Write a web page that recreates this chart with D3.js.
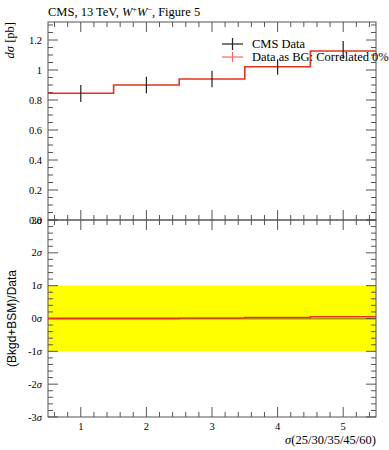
<!DOCTYPE html>
<html><head><meta charset="utf-8">
<script src="https://cdn.jsdelivr.net/npm/d3@7"></script>
<style>body{margin:0;background:#fff}svg{display:block}</style>
</head><body>
<svg id="c" width="389" height="450"></svg>
<script>
const binEdges = [0.5, 1.5, 2.5, 3.5, 4.5, 5.5];
const dataX = [1, 2, 3, 4, 5];
const dataY = [0.843, 0.900, 0.940, 1.020, 1.133];
const dataErr = [0.057, 0.055, 0.055, 0.052, 0.060];
const predY = [0.845, 0.900, 0.940, 1.022, 1.127];
const ratioVals = [0.0, 0.0, 0.01, 0.03, 0.06];
const upperTicks = [0, 0.2, 0.4, 0.6, 0.8, 1, 1.2];
const upperTickLabels = ["0.0", "0.2", "0.4", "0.6", "0.8", "1", "1.2"];
const lowerTicks = [-3, -2, -1, 0, 1, 2, 3];
const lowerTickLabels = ["-3σ", "-2σ", "-1σ", "0σ", "1σ", "2σ", "3σ"];
const xTicks = [1, 2, 3, 4, 5];

const svg = d3.select("#c");
const L = 48, R = 376, T = 22, M = 220, B = 417;
const x = d3.scaleLinear().domain([0.5, 5.5]).range([L, R]);
const yU = d3.scaleLinear().domain([0, 1.32]).range([M, T]);
const yL = d3.scaleLinear().domain([-3, 3]).range([B, M]);
const serif = "'Liberation Serif','DejaVu Serif',serif";
const axCol = "#555";

// yellow band
svg.append("rect").attr("x", L).attr("width", R - L)
  .attr("y", yL(1)).attr("height", yL(-1) - yL(1)).attr("fill", "#ffff00");

// frames
[[T, M], [M, B]].forEach(([t, b]) => {
  svg.append("rect").attr("x", L).attr("y", t).attr("width", R - L).attr("height", b - t)
    .attr("fill", "none").attr("stroke", axCol).attr("stroke-width", 1);
});

function xTickMarks(yPos, dir) {
  const g = svg.append("g").attr("stroke", axCol).attr("stroke-width", 1);
  const minors = d3.range(0.6, 5.5, 0.2);
  minors.forEach(v => {
    const isMajor = Math.abs(v - Math.round(v)) < 1e-6;
    const len = isMajor ? 10 : 5;
    g.append("line").attr("x1", x(v)).attr("x2", x(v)).attr("y1", yPos).attr("y2", yPos + dir * len);
  });
}
xTickMarks(T, 1); xTickMarks(M, -1); xTickMarks(M, 1); xTickMarks(B, -1);

function yTickMarks(scale, lo, hi, step, majorStep) {
  const g = svg.append("g").attr("stroke", axCol).attr("stroke-width", 1);
  const n = Math.round((hi - lo) / step);
  for (let i = 0; i <= n; i++) {
    const v = lo + i * step;
    const isMajor = Math.abs(v / majorStep - Math.round(v / majorStep)) < 1e-6;
    const len = isMajor ? 10 : 5;
    g.append("line").attr("x1", L).attr("x2", L + len).attr("y1", scale(v)).attr("y2", scale(v));
    g.append("line").attr("x1", R).attr("x2", R - len).attr("y1", scale(v)).attr("y2", scale(v));
  }
}
yTickMarks(yU, 0, 1.3, 0.05, 0.2);
yTickMarks(yL, -3, 3, 0.2, 1);

// y tick labels
upperTicks.forEach((v, i) => {
  svg.append("text").attr("x", 42).attr("y", yU(v) + 3.5).attr("text-anchor", "end")
    .attr("font-family", serif).attr("font-size", 10.5).text(upperTickLabels[i]);
});
lowerTicks.forEach((v, i) => {
  const t = svg.append("text").attr("x", 42).attr("y", yL(v) + 3.5).attr("text-anchor", "end")
    .attr("font-family", serif).attr("font-size", 10.5);
  const lab = lowerTickLabels[i];
  t.append("tspan").text(lab.slice(0, -1));
  t.append("tspan").attr("font-style", "italic").text("σ");
});
// x tick labels
xTicks.forEach(v => {
  svg.append("text").attr("x", x(v)).attr("y", 430).attr("text-anchor", "middle")
    .attr("font-family", serif).attr("font-size", 10.5).text(v);
});

// upper histogram
const red = "#e0341c";
const stepPts = [];
predY.forEach((v, i) => { stepPts.push([binEdges[i], v]); stepPts.push([binEdges[i + 1], v]); });
svg.append("path").datum(stepPts)
  .attr("d", d3.line().x(d => x(d[0])).y(d => yU(d[1])))
  .attr("fill", "none").attr("stroke", red).attr("stroke-width", 1.6);

// data points
const dg = svg.append("g").attr("stroke", "#222").attr("stroke-width", 1.2);
dataX.forEach((v, i) => {
  dg.append("line").attr("x1", x(v)).attr("x2", x(v))
    .attr("y1", yU(dataY[i] - dataErr[i])).attr("y2", yU(dataY[i] + dataErr[i]));
});

// lower ratio line
svg.append("line").attr("x1", L).attr("x2", R).attr("y1", yL(0)).attr("y2", yL(0))
  .attr("stroke", "#7a5a00").attr("stroke-width", 2.2).attr("opacity", 0.6);
const rPts = [];
ratioVals.forEach((v, i) => { rPts.push([binEdges[i], v]); rPts.push([binEdges[i + 1], v]); });
svg.append("path").datum(rPts)
  .attr("d", d3.line().x(d => x(d[0])).y(d => yL(d[1])))
  .attr("fill", "none").attr("stroke", red).attr("stroke-width", 1.3);

// legend
const lg = svg.append("g");
lg.append("line").attr("x1", 222).attr("x2", 243).attr("y1", 44).attr("y2", 44).attr("stroke", "#222").attr("stroke-width", 1.2);
lg.append("line").attr("x1", 232.5).attr("x2", 232.5).attr("y1", 38).attr("y2", 50).attr("stroke", "#222").attr("stroke-width", 1.2);
lg.append("text").attr("x", 252).attr("y", 48).attr("font-family", serif).attr("font-size", 12.5).text("CMS Data");
lg.append("line").attr("x1", 222).attr("x2", 243).attr("y1", 57).attr("y2", 57).attr("stroke", "#f07060").attr("stroke-width", 1.2);
lg.append("line").attr("x1", 232.5).attr("x2", 232.5).attr("y1", 52).attr("y2", 62).attr("stroke", "#f07060").attr("stroke-width", 1.2);
lg.append("text").attr("x", 252).attr("y", 61).attr("font-family", serif).attr("font-size", 12.5).text("Data as BG: Correlated 0%");

// title
const tt = svg.append("text").attr("x", 48).attr("y", 16).attr("font-family", serif).attr("font-size", 12.5);
tt.append("tspan").text("CMS, 13 TeV, ");
tt.append("tspan").attr("font-style", "italic").text("W");
tt.append("tspan").attr("baseline-shift", "super").attr("font-size", 8).text("+");
tt.append("tspan").attr("font-style", "italic").text("W");
tt.append("tspan").attr("baseline-shift", "super").attr("font-size", 8).text("−");
tt.append("tspan").text(", Figure 5");

// y axis labels
const yl = svg.append("text").attr("transform", "translate(14,22) rotate(-90)").attr("text-anchor", "end")
  .attr("font-family", serif).attr("font-size", 12.5);
yl.append("tspan").attr("font-style", "italic").text("dσ");
yl.append("tspan").text(" [pb]");
svg.append("text").attr("transform", `translate(16,${yL(0)}) rotate(-90)`).attr("text-anchor", "middle")
  .attr("font-family", "'Liberation Sans','DejaVu Sans',sans-serif").attr("font-size", 12).text("(Bkgd+BSM)/Data");

// x axis label
const xl = svg.append("text").attr("x", R).attr("y", 444).attr("text-anchor", "end")
  .attr("font-family", serif).attr("font-size", 12.5);
xl.append("tspan").attr("font-style", "italic").text("σ");
xl.append("tspan").text("(25/30/35/45/60)");
</script>
</body></html>
